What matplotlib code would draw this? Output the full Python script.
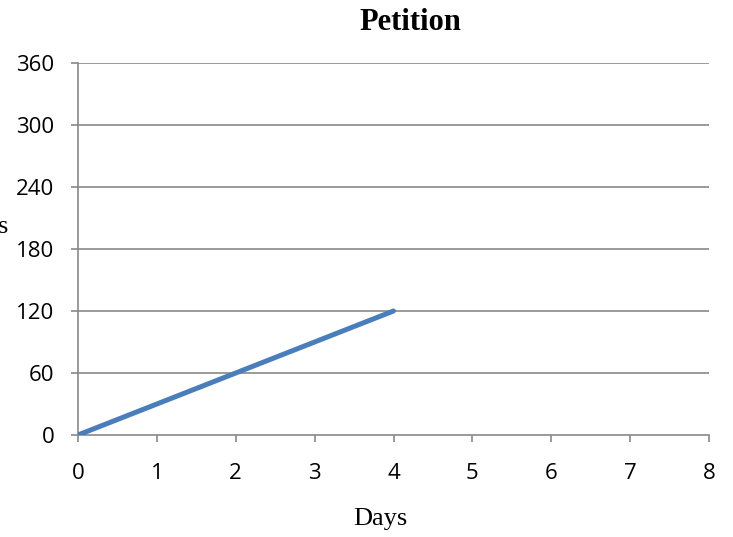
import matplotlib
matplotlib.use("Agg")
import matplotlib.pyplot as plt

days = [0, 1, 2, 3, 4]
signatures = [0, 30, 60, 90, 120]
x_ticks = [0, 1, 2, 3, 4, 5, 6, 7, 8]
y_ticks = [0, 60, 120, 180, 240, 300, 360]

W, H = 733, 537
fig = plt.figure(figsize=(W / 100, H / 100), dpi=100)
ax = fig.add_axes([78 / W, 1 - 435 / H, (709 - 78) / W, (435 - 63) / H])

grid_col = "#898989"
for y in y_ticks[1:]:
    ax.axhline(y, color=grid_col, lw=1.2, zorder=1)

ax.plot(days, signatures, color="#4a7ebb", lw=3.6, solid_capstyle="round", zorder=3)

ax.set_xlim(0, 8)
ax.set_ylim(0, 360)
ax.set_xticks(x_ticks)
ax.set_yticks(y_ticks)
for s in ["top", "right"]:
    ax.spines[s].set_visible(False)
for s in ["left", "bottom"]:
    ax.spines[s].set_color(grid_col)
    ax.spines[s].set_linewidth(1.2)

tick_font = {"family": ["Open Sans", "DejaVu Sans"], "size": 16}
ax.tick_params(axis="both", direction="out", length=5, width=1.2, color=grid_col,
               labelcolor="black")
ax.tick_params(axis="x", pad=15.5)
ax.tick_params(axis="y", pad=12)
ax.set_xticklabels([str(v) for v in x_ticks], **tick_font)
ax.set_yticklabels([str(v) for v in y_ticks], **tick_font)

serif = ["Liberation Serif", "DejaVu Serif"]
fig.text(410.5 / W, 1 - 22 / H, "Petition", ha="center", va="center",
         fontsize=22, fontweight="bold", family=serif)
fig.text(380 / W, 1 - 519 / H, "Days", ha="center", va="center",
         fontsize=19, family=serif)
fig.text(9 / W, 1 - 233 / H, "Signatures", ha="right", va="baseline",
         fontsize=19, family=serif)

fig.savefig("out.png", dpi=100)
